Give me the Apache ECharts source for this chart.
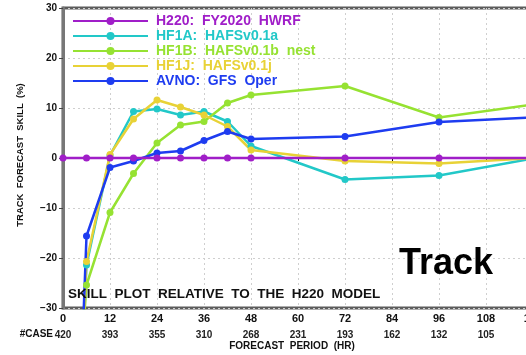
<!DOCTYPE html>
<html>
<head>
<meta charset="utf-8">
<script src="https://cdn.jsdelivr.net/npm/echarts@6/dist/echarts.min.js"></script>
<style>
  html, body { margin: 0; padding: 0; background: #ffffff; }
  #chart { width: 526px; height: 355px; }
</style>
</head>
<body>
<div id="chart"></div>
<script>
// Forecast lead times (hours) at which skill was verified
const hours = [0, 6, 12, 18, 24, 30, 36, 42, 48, 72, 96, 120];

// Track forecast skill (%) relative to the H220 baseline
const h220 = [0, 0, 0, 0, 0, 0, 0, 0, 0, 0, 0, 0];
const hf1a = [-120, -21.4, 0.5, 9.3, 9.8, 8.6, 9.3, 7.3, 2.4, -4.3, -3.5, -0.1];
const hf1b = [-90, -25.4, -10.9, -3.1, 3.0, 6.6, 7.3, 11.0, 12.6, 14.4, 8.1, 10.7];
const hf1j = [-120, -20.7, 0.7, 7.8, 11.6, 10.2, 8.6, 6.3, 1.6, -0.6, -1.1, 0.0];
const avno = [-140, -15.6, -1.9, -0.6, 1.0, 1.4, 3.5, 5.3, 3.8, 4.3, 7.2, 8.1];

// Axis tick hours and the verified case count under each
const tickHours = [0, 12, 24, 36, 48, 60, 72, 84, 96, 108, 120];
const caseCounts = [420, 393, 355, 310, 268, 231, 193, 162, 132, 105, 84];

const seriesNames = [
  'H220:  FY2020  HWRF',
  'HF1A:  HAFSv0.1a',
  'HF1B:  HAFSv0.1b  nest',
  'HF1J:  HAFSv0.1j',
  'AVNO:  GFS  Oper'
];
const seriesValues = [h220, hf1a, hf1b, hf1j, avno];
const seriesColors = ['#a01ec8', '#22c8c8', '#96e232', '#e8d236', '#1e3cf0'];

const FONT = '"Liberation Sans", Arial, sans-serif';

const chart = echarts.init(document.getElementById('chart'), null, { renderer: 'canvas' });

const series = seriesNames.map((name, k) => ({
  name: name,
  type: 'line',
  clip: true,
  z: k === 0 ? 5 : 3,
  symbol: 'circle',
  symbolSize: 7,
  color: seriesColors[k],
  lineStyle: { width: 2.5, color: seriesColors[k] },
  itemStyle: { color: seriesColors[k] },
  emphasis: { disabled: true },
  data: hours.map((h, i) => [h, seriesValues[k][i]])
}));

chart.setOption({
  animation: false,
  backgroundColor: '#ffffff',
  grid: {
    left: 63, top: 8, bottom: 47, width: 517,
    outerBoundsMode: 'none',
    containLabel: false,
    show: true, borderColor: '#5c5c5c', borderWidth: 3, backgroundColor: 'transparent'
  },
  legend: {
    orient: 'vertical',
    left: 72, top: 14, padding: 0,
    itemWidth: 75, itemHeight: 10, itemGap: 1,
    data: seriesNames.map((n, k) => ({ name: n, textStyle: { color: seriesColors[k] } })),
    textStyle: { fontFamily: FONT, fontWeight: 'bold', fontSize: 14, lineHeight: 14, padding: [0, 0, 0, 3] }
  },
  xAxis: {
    type: 'value',
    min: 0, max: 132, interval: 12,
    axisLine: { show: true, lineStyle: { color: '#111', width: 2 } },
    axisTick: { show: true, length: 3, lineStyle: { color: '#111' } },
    splitLine: { show: true, lineStyle: { color: '#cfcfcf', type: [2, 3], width: 1 } },
    axisLabel: {
      margin: 3,
      formatter: function (v) {
        const i = tickHours.indexOf(v);
        return '{h|' + v + '}\n{c|' + (i >= 0 ? caseCounts[i] : '') + '}';
      },
      rich: {
        h: { fontFamily: FONT, fontWeight: 'bold', fontSize: 11, color: '#111', lineHeight: 16 },
        c: { fontFamily: FONT, fontWeight: 'bold', fontSize: 10, color: '#222', lineHeight: 16 }
      }
    }
  },
  yAxis: {
    type: 'value',
    min: -30, max: 30, interval: 10,
    axisLine: { show: true, lineStyle: { color: '#777', width: 3 } },
    axisTick: { show: true, length: 4, lineStyle: { color: '#444' } },
    splitLine: { show: true, lineStyle: { color: '#cfcfcf', type: [2, 3], width: 1 } },
    axisLabel: {
      margin: 6,
      fontFamily: FONT, fontWeight: 'bold', fontSize: 10, color: '#111',
      formatter: v => String(v).replace('-', '\u2212')
    }
  },
  series: series,
  graphic: [
    {
      type: 'text', x: 20, y: 155, rotation: Math.PI / 2,
      style: { text: 'TRACK  FORECAST  SKILL  (%)', font: 'bold 9.5px ' + FONT, fill: '#111',
               textAlign: 'center', textVerticalAlign: 'middle' }
    },
    {
      type: 'text', x: 68, y: 294, z: 10,
      style: { text: 'SKILL  PLOT  RELATIVE  TO  THE  H220  MODEL', font: 'bold 13.5px ' + FONT, fill: '#111',
               textAlign: 'left', textVerticalAlign: 'middle' }
    },
    {
      type: 'text', x: 446, y: 264, z: 10,
      style: { text: 'Track', font: 'bold 36px ' + FONT, fill: '#000',
               textAlign: 'center', textVerticalAlign: 'middle' }
    },
    {
      type: 'text', x: 53, y: 334,
      style: { text: '#CASE', font: 'bold 10px ' + FONT, fill: '#111',
               textAlign: 'right', textVerticalAlign: 'middle' }
    },
    {
      type: 'text', x: 292, y: 346,
      style: { text: 'FORECAST  PERIOD  (HR)', font: 'bold 10px ' + FONT, fill: '#111',
               textAlign: 'center', textVerticalAlign: 'middle' }
    }
  ]
});
</script>
</body>
</html>
